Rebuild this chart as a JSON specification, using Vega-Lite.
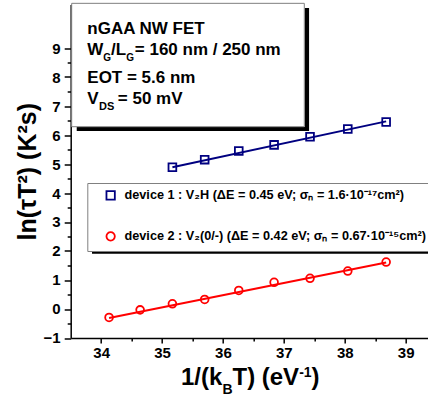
{
  "$schema": "https://vega.github.io/schema/vega-lite/v6.json",
  "width": 365.4,
  "height": 333.5,
  "autosize": "none",
  "padding": {"left": 70.7, "top": 4.5, "right": 0, "bottom": 61},
  "background": "white",
  "config": {
    "view": {"stroke": null}
  },
  "data": {"values": [{"k": 1}]},
  "datasets": {
    "points": [
      {"device": "device 1", "x": 35.17, "y": 4.89},
      {"device": "device 1", "x": 35.70, "y": 5.15},
      {"device": "device 1", "x": 36.26, "y": 5.45},
      {"device": "device 1", "x": 36.84, "y": 5.66},
      {"device": "device 1", "x": 37.43, "y": 5.94},
      {"device": "device 1", "x": 38.05, "y": 6.21},
      {"device": "device 1", "x": 38.68, "y": 6.45},
      {"device": "device 2", "x": 34.13, "y": -0.29},
      {"device": "device 2", "x": 34.64, "y": -0.03},
      {"device": "device 2", "x": 35.17, "y": 0.18},
      {"device": "device 2", "x": 35.70, "y": 0.33},
      {"device": "device 2", "x": 36.26, "y": 0.64},
      {"device": "device 2", "x": 36.84, "y": 0.92},
      {"device": "device 2", "x": 37.43, "y": 1.06},
      {"device": "device 2", "x": 38.05, "y": 1.31},
      {"device": "device 2", "x": 38.68, "y": 1.62}
    ],
    "fits": [
      {"device": "device 1", "x": 35.17, "y": 4.89},
      {"device": "device 1", "x": 38.68, "y": 6.47},
      {"device": "device 2", "x": 34.13, "y": -0.31},
      {"device": "device 2", "x": 38.68, "y": 1.60}
    ]
  },
  "resolve": {"axis": {"x": "independent", "y": "independent"}},
  "layer": [
    {
      "mark": {"type": "rule", "stroke": "black", "strokeWidth": 4.5, "strokeCap": "butt"},
      "encoding": {
        "x": {"datum": 33.85, "type": "quantitative", "axis": null},
        "x2": {"datum": 40},
        "y": {"datum": 1.983, "type": "quantitative", "axis": null}
      }
    },
    {
      "mark": {"type": "rule", "stroke": "black", "strokeWidth": 4.3, "strokeCap": "butt"},
      "encoding": {
        "x": {"datum": 37.379, "type": "quantitative", "axis": null},
        "y": {"datum": 6.138, "type": "quantitative", "axis": null},
        "y2": {"datum": 10.38}
      }
    },
    {
      "mark": {"type": "rule", "stroke": "black", "strokeWidth": 4.3, "strokeCap": "butt"},
      "encoding": {
        "x": {"datum": 33.599, "type": "quantitative", "axis": null},
        "x2": {"datum": 37.413},
        "y": {"datum": 6.21, "type": "quantitative", "axis": null}
      }
    },
    {
      "mark": {"type": "rect", "fill": "white", "stroke": "#808080", "strokeWidth": 1},
      "encoding": {
        "x": {"datum": 33.516, "type": "quantitative", "axis": null},
        "x2": {"datum": 37.336},
        "y": {"datum": 6.286, "type": "quantitative", "axis": null},
        "y2": {"datum": 10.54}
      }
    },
    {
      "data": {"name": "fits"},
      "mark": {"type": "line", "strokeWidth": 2},
      "encoding": {
        "x": {
          "field": "x", "type": "quantitative",
          "axis": {
            "orient": "bottom", "title": null, "labels": false, "domain": false, "grid": false,
            "values": [34.5, 35.5, 36.5, 37.5, 38.5],
            "tickColor": "black", "tickWidth": 1.5, "tickSize": 3
          }
        },
        "y": {
          "field": "y", "type": "quantitative",
          "axis": {
            "orient": "left", "title": null, "labels": false, "domain": false, "grid": false,
            "values": [-0.5, 0.5, 1.5, 2.5, 3.5, 4.5, 5.5, 6.5, 7.5, 8.5],
            "tickColor": "black", "tickWidth": 1.5, "tickSize": 3.5
          }
        },
        "detail": {"field": "device", "type": "nominal"},
        "color": {"condition": {"test": "datum.device === 'device 1'", "value": "#000080"}, "value": "#ff0000"}
      }
    },
    {
      "data": {"name": "points"},
      "mark": {"type": "point", "filled": false, "strokeWidth": 1.8, "size": 60, "opacity": 1},
      "encoding": {
        "x": {
          "field": "x", "type": "quantitative",
          "scale": {"domain": [33.5, 39.5], "nice": false, "zero": false},
          "axis": {
            "orient": "bottom",
            "title": null,
            "values": [34, 35, 36, 37, 38, 39],
            "grid": false,
            "domainColor": "black", "domainWidth": 1.5,
            "tickColor": "black", "tickWidth": 1.5, "tickSize": 5,
            "labelFont": "Liberation Sans", "labelFontWeight": "bold", "labelFontSize": 15,
            "labelColor": "black", "labelPadding": 3
          }
        },
        "y": {
          "field": "y", "type": "quantitative",
          "scale": {"domain": [-1, 10.5], "nice": false, "zero": false},
          "axis": {
            "orient": "left",
            "title": "ln(τT²) (K²s)",
            "titleFont": "Liberation Sans", "titleFontWeight": "bold", "titleFontSize": 25,
            "titleColor": "black", "titlePadding": 3,
            "values": [-1, 0, 1, 2, 3, 4, 5, 6, 7, 8, 9],
            "grid": false,
            "domainColor": "black", "domainWidth": 1.5,
            "tickColor": "black", "tickWidth": 1.5, "tickSize": 6.5,
            "labelFont": "Liberation Sans", "labelFontWeight": "bold", "labelFontSize": 15,
            "labelColor": "black", "labelPadding": 4
          }
        },
        "color": {
          "field": "device", "type": "nominal",
          "scale": {"domain": ["device 1", "device 2"], "range": ["#000080", "#ff0000"]},
          "legend": {
            "orient": "none", "legendX": 16.6, "legendY": 178.5,
            "title": null,
            "fillColor": "white", "strokeColor": "#808080",
            "padding": 6, "symbolOffset": 11, "labelOffset": 7.5,
            "rowPadding": 24,
            "symbolSize": 70, "symbolStrokeWidth": 1.8,
            "labelFont": "Liberation Sans", "labelFontWeight": "bold", "labelFontSize": 12.7,
            "labelColor": "black", "labelLimit": 600,
            "labelExpr": "datum.value === 'device 1' ? 'device 1 : V₂H (ΔE = 0.45 eV; σₙ = 1.6·10⁻¹⁷cm²)' : ' device 2 : V₂(0/-) (ΔE = 0.42 eV; σₙ = 0.67·10⁻¹⁵cm²)'"
          }
        },
        "shape": {
          "field": "device", "type": "nominal",
          "scale": {"domain": ["device 1", "device 2"], "range": ["square", "circle"]}
        }
      }
    },
    {
      "mark": {"type": "text", "align": "left", "baseline": "alphabetic", "font": "Liberation Sans", "fontWeight": "bold", "fill": "black", "fontSize": 17},
      "encoding": {"x": {"datum": 33.773, "type": "quantitative", "axis": null}, "y": {"datum": 9.5, "type": "quantitative", "axis": null}, "text": {"value": "nGAA NW FET"}}
    },
    {
      "mark": {"type": "text", "align": "left", "baseline": "alphabetic", "font": "Liberation Sans", "fontWeight": "bold", "fill": "black", "fontSize": 17},
      "encoding": {"x": {"datum": 33.773, "type": "quantitative", "axis": null}, "y": {"datum": 8.759, "type": "quantitative", "axis": null}, "text": {"value": "W"}}
    },
    {
      "mark": {"type": "text", "align": "left", "baseline": "alphabetic", "font": "Liberation Sans", "fontWeight": "bold", "fill": "black", "fontSize": 10, "dx": 16, "dy": 6},
      "encoding": {"x": {"datum": 33.773, "type": "quantitative", "axis": null}, "y": {"datum": 8.759, "type": "quantitative", "axis": null}, "text": {"value": "G"}}
    },
    {
      "mark": {"type": "text", "align": "left", "baseline": "alphabetic", "font": "Liberation Sans", "fontWeight": "bold", "fill": "black", "fontSize": 17, "dx": 23.8},
      "encoding": {"x": {"datum": 33.773, "type": "quantitative", "axis": null}, "y": {"datum": 8.759, "type": "quantitative", "axis": null}, "text": {"value": "/L"}}
    },
    {
      "mark": {"type": "text", "align": "left", "baseline": "alphabetic", "font": "Liberation Sans", "fontWeight": "bold", "fill": "black", "fontSize": 10, "dx": 38.9, "dy": 6},
      "encoding": {"x": {"datum": 33.773, "type": "quantitative", "axis": null}, "y": {"datum": 8.759, "type": "quantitative", "axis": null}, "text": {"value": "G"}}
    },
    {
      "mark": {"type": "text", "align": "left", "baseline": "alphabetic", "font": "Liberation Sans", "fontWeight": "bold", "fill": "black", "fontSize": 17, "dx": 47.5},
      "encoding": {"x": {"datum": 33.773, "type": "quantitative", "axis": null}, "y": {"datum": 8.759, "type": "quantitative", "axis": null}, "text": {"value": " = 160 nm / 250 nm"}}
    },
    {
      "mark": {"type": "text", "align": "left", "baseline": "alphabetic", "font": "Liberation Sans", "fontWeight": "bold", "fill": "black", "fontSize": 17},
      "encoding": {"x": {"datum": 33.773, "type": "quantitative", "axis": null}, "y": {"datum": 7.776, "type": "quantitative", "axis": null}, "text": {"value": "EOT = 5.6 nm"}}
    },
    {
      "mark": {"type": "text", "align": "left", "baseline": "alphabetic", "font": "Liberation Sans", "fontWeight": "bold", "fill": "black", "fontSize": 17},
      "encoding": {"x": {"datum": 33.773, "type": "quantitative", "axis": null}, "y": {"datum": 7.086, "type": "quantitative", "axis": null}, "text": {"value": "V"}}
    },
    {
      "mark": {"type": "text", "align": "left", "baseline": "alphabetic", "font": "Liberation Sans", "fontWeight": "bold", "fill": "black", "fontSize": 11, "dx": 11.8, "dy": 6},
      "encoding": {"x": {"datum": 33.773, "type": "quantitative", "axis": null}, "y": {"datum": 7.086, "type": "quantitative", "axis": null}, "text": {"value": "DS"}}
    },
    {
      "mark": {"type": "text", "align": "left", "baseline": "alphabetic", "font": "Liberation Sans", "fontWeight": "bold", "fill": "black", "fontSize": 17, "dx": 30.5},
      "encoding": {"x": {"datum": 33.773, "type": "quantitative", "axis": null}, "y": {"datum": 7.086, "type": "quantitative", "axis": null}, "text": {"value": " = 50 mV"}}
    },
    {
      "mark": {"type": "text", "align": "left", "baseline": "alphabetic", "font": "Liberation Sans", "fontWeight": "bold", "fill": "black", "fontSize": 24},
      "encoding": {"x": {"datum": 35.311, "type": "quantitative", "axis": null}, "y": {"datum": -2.621, "type": "quantitative", "axis": null}, "text": {"value": "1/(k"}}
    },
    {
      "mark": {"type": "text", "align": "left", "baseline": "alphabetic", "font": "Liberation Sans", "fontWeight": "bold", "fill": "black", "fontSize": 14, "dx": 41.4, "dy": 9},
      "encoding": {"x": {"datum": 35.311, "type": "quantitative", "axis": null}, "y": {"datum": -2.621, "type": "quantitative", "axis": null}, "text": {"value": "B"}}
    },
    {
      "mark": {"type": "text", "align": "left", "baseline": "alphabetic", "font": "Liberation Sans", "fontWeight": "bold", "fill": "black", "fontSize": 24, "dx": 51.5},
      "encoding": {"x": {"datum": 35.311, "type": "quantitative", "axis": null}, "y": {"datum": -2.621, "type": "quantitative", "axis": null}, "text": {"value": "T) (eV"}}
    },
    {
      "mark": {"type": "text", "align": "left", "baseline": "alphabetic", "font": "Liberation Sans", "fontWeight": "bold", "fill": "black", "fontSize": 14, "dx": 118.2, "dy": -8},
      "encoding": {"x": {"datum": 35.311, "type": "quantitative", "axis": null}, "y": {"datum": -2.621, "type": "quantitative", "axis": null}, "text": {"value": "-1"}}
    },
    {
      "mark": {"type": "text", "align": "left", "baseline": "alphabetic", "font": "Liberation Sans", "fontWeight": "bold", "fill": "black", "fontSize": 24, "dx": 130.6},
      "encoding": {"x": {"datum": 35.311, "type": "quantitative", "axis": null}, "y": {"datum": -2.621, "type": "quantitative", "axis": null}, "text": {"value": ")"}}
    }
  ]
}
